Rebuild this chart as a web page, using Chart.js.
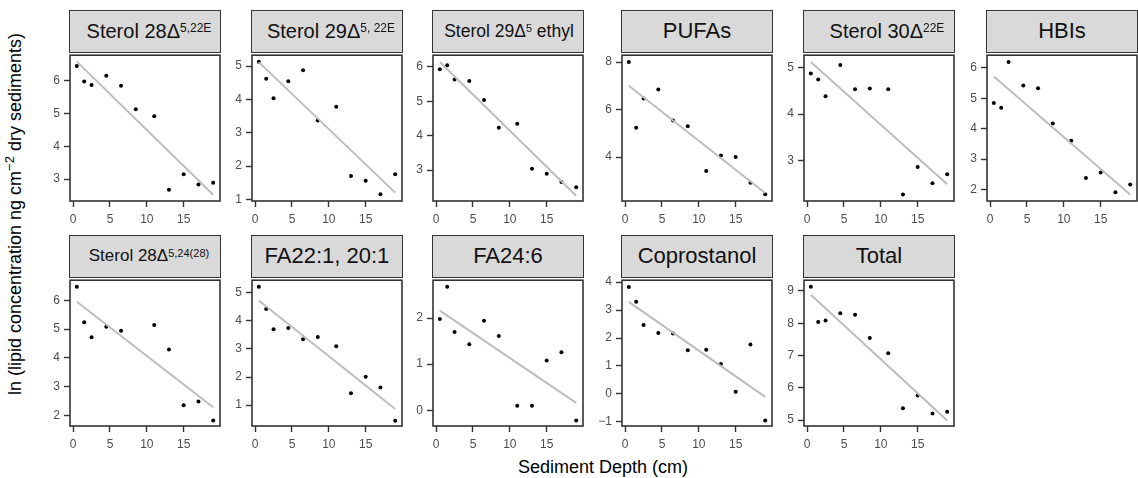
<!DOCTYPE html>
<html>
<head>
<meta charset="utf-8">
<script src="https://cdn.jsdelivr.net/npm/chart.js@4.4.1/dist/chart.umd.min.js"></script>
<style>
  body { margin: 0; background: #fff; width: 1138px; height: 478px; position: relative; overflow: hidden;
         font-family: "Liberation Sans", Arial, Helvetica, sans-serif; }
  .panel { position: absolute; }
  .strip { position: absolute; box-sizing: border-box; background: #d9d9d9; border: 1.6px solid #333;
           display: flex; align-items: center; justify-content: center; color: #111; white-space: pre; }
  .strip sup { position: relative; top: -0.3em; vertical-align: super; line-height: 0; }
  .ytitle { position: absolute; left: 14.8px; top: 214px; font-size: 18px; line-height: 18px; white-space: nowrap;
            transform: translate(-50%, -50%) rotate(-90deg); color: #000; }
  .ytitle sup { font-size: 13px; vertical-align: 7px; line-height: 0; }
  .xtitle { position: absolute; left: 603px; top: 458px; font-size: 18px; line-height: 18px; white-space: nowrap;
            transform: translateX(-50%); color: #000; }
</style>
</head>
<body>
<div class="ytitle">ln (lipid concentration ng cm<sup>&minus;2</sup> dry sediments)</div>
<div class="xtitle">Sediment Depth (cm)</div>
<script>
// sediment depth of each core slice (cm)
const depths = [0.5, 1.5, 2.5, 4.5, 6.5, 8.5, 11, 13, 15, 17, 19];
const depthTicks = [0, 5, 10, 15];

// ln concentrations per compound class, one value per depth
const sterol28_522 = [6.45, 5.98, 5.87, 6.15, 5.85, 5.13, 4.92, 2.67, 3.15, 2.83, 2.89];
const sterol29_522 = [5.13, 4.62, 4.04, 4.55, 4.88, 3.37, 3.78, 1.70, 1.56, 1.15, 1.75];
const sterol29_ethyl = [5.93, 6.05, 5.63, 5.59, 5.04, 4.23, 4.35, 3.04, 2.89, 2.65, 2.50];
const pufas = [8.00, 5.23, 6.47, 6.85, 5.54, 5.30, 3.41, 4.07, 4.00, 2.92, 2.43];
const sterol30_22 = [4.87, 4.74, 4.38, 5.05, 4.53, 4.55, 4.53, 2.28, 2.87, 2.52, 2.71];
const hbis = [4.85, 4.69, 6.20, 5.42, 5.33, 4.17, 3.60, 2.38, 2.56, 1.91, 2.16];
const sterol28_524 = [6.47, 5.24, 4.72, 5.08, 4.94, null, 5.14, 4.29, 2.35, 2.48, 1.82];
const fa22_20 = [5.21, 4.42, 3.70, 3.74, 3.34, 3.42, 3.09, 1.42, 2.01, 1.63, 0.45];
const fa24_6 = [1.98, 2.68, 1.70, 1.43, 1.94, 1.61, 0.10, 0.10, 1.08, 1.26, -0.22];
const coprostanol = [3.83, 3.30, 2.47, 2.18, 2.16, 1.56, 1.58, 1.07, 0.08, 1.77, -0.95];
const total = [9.13, 8.04, 8.08, 8.31, 8.26, 7.54, 7.07, 5.37, 5.76, 5.21, 5.26];

// facet labels
const facetLabels = [
  'Sterol 28&Delta;<sup>5,22E</sup>', 'Sterol 29&Delta;<sup>5, 22E</sup>', 'Sterol 29&Delta;<sup>5</sup> ethyl',
  'PUFAs', 'Sterol 30&Delta;<sup>22E</sup>', 'HBIs',
  'Sterol 28&Delta;<sup>5,24(28)</sup>', 'FA22:1, 20:1', 'FA24:6', 'Coprostanol', 'Total'
];

// y tick labels for each facet
const yTicks = [
  [3, 4, 5, 6], [1, 2, 3, 4, 5], [3, 4, 5, 6], [4, 6, 8], [3, 4, 5], [2, 3, 4, 5, 6],
  [2, 3, 4, 5, 6], [1, 2, 3, 4, 5], [0, 1, 2], [-1, 0, 1, 2, 3, 4], [5, 6, 7, 8, 9]
];

// free y ranges of each facet
const yRanges = [
  [2.33, 6.78], [0.95, 5.33], [2.10, 6.34], [2.15, 8.29], [2.14, 5.26], [1.62, 6.42],
  [1.63, 6.70], [0.26, 5.44], [-0.34, 2.82], [-1.15, 4.07], [4.82, 9.33]
];

const series = [sterol28_522, sterol29_522, sterol29_ethyl, pufas, sterol30_22, hbis,
                sterol28_524, fa22_20, fa24_6, coprostanol, total];

// layout
const colLeft = [70, 252, 433, 622, 804, 987];
const rowTop = [52, 277];
const PANEL_W = 150, PANEL_H = 149, STRIP_H = 42;
const AXIS_W = 40, AXIS_H = 30, PAD_T = 8, PAD_R = 4;
const stripFont = [20, 20, 17.5, 22, 20, 22, 17, 22, 22, 22, 22];
const stripSup = [12, 12, 11, 12, 12, 12, 11, 12, 12, 12, 12];
const stripDx = [4, 4, 1, 0, 8, 0, 4, 0, 0, 0, 0];

const FONT = '"Liberation Sans", Arial, Helvetica, sans-serif';

const panelBorder = {
  id: 'panelBorder',
  afterDraw(chart) {
    const { ctx, chartArea: a } = chart;
    ctx.save();
    ctx.strokeStyle = '#333';
    ctx.lineWidth = 1.6;
    ctx.strokeRect(a.left, a.top, a.right - a.left, a.bottom - a.top);
    ctx.restore();
  }
};

// least squares line over the observed depth span
function fitLine(xs, ys) {
  const pts = xs.map((x, i) => [x, ys[i]]).filter(p => p[1] !== null);
  const n = pts.length;
  const mx = pts.reduce((s, p) => s + p[0], 0) / n;
  const my = pts.reduce((s, p) => s + p[1], 0) / n;
  let sxy = 0, sxx = 0;
  pts.forEach(p => { sxy += (p[0] - mx) * (p[1] - my); sxx += (p[0] - mx) ** 2; });
  const b = sxy / sxx, a = my - b * mx;
  const x0 = Math.min(...pts.map(p => p[0])), x1 = Math.max(...pts.map(p => p[0]));
  return [{ x: x0, y: a + b * x0 }, { x: x1, y: a + b * x1 }];
}

const fmt = v => (v < 0 ? '\u2212' + Math.abs(v) : String(v));

series.forEach((vals, i) => {
  const col = i % 6, row = Math.floor(i / 6);
  const left = colLeft[col], top = rowTop[row];

  // strip
  const strip = document.createElement('div');
  strip.className = 'strip';
  strip.style.left = (left - 0.8) + 'px';
  strip.style.top = (top - STRIP_H) + 'px';
  strip.style.width = (PANEL_W + 1.6) + 'px';
  strip.style.height = (STRIP_H + 0.8) + 'px';
  strip.style.fontSize = stripFont[i] + 'px';
  strip.style.paddingLeft = (2 * stripDx[i]) + 'px';
  strip.innerHTML = facetLabels[i];
  strip.querySelectorAll('sup').forEach(s => { s.style.fontSize = stripSup[i] + 'px'; });
  document.body.appendChild(strip);

  // panel canvas, chart area lands on (left, top)
  const w = AXIS_W + PANEL_W + PAD_R, h = PAD_T + PANEL_H + AXIS_H;
  const box = document.createElement('div');
  box.className = 'panel';
  box.style.left = (left - AXIS_W) + 'px';
  box.style.top = (top - PAD_T) + 'px';
  box.style.width = w + 'px';
  box.style.height = h + 'px';
  const canvas = document.createElement('canvas');
  canvas.width = w; canvas.height = h;
  canvas.style.width = w + 'px'; canvas.style.height = h + 'px';
  box.appendChild(canvas);
  document.body.appendChild(box);

  const points = depths.map((d, k) => ({ x: d, y: vals[k] })).filter(p => p.y !== null);
  const ticks = yTicks[i];

  new Chart(canvas, {
    type: 'scatter',
    data: {
      datasets: [
        { data: fitLine(depths, vals), showLine: true, borderColor: '#bdbdbd', borderWidth: 2,
          pointRadius: 0, fill: false },
        { data: points, backgroundColor: '#000', borderWidth: 0, pointRadius: 2 }
      ]
    },
    options: {
      responsive: false,
      animation: false,
      devicePixelRatio: 1,
      events: [],
      layout: { padding: { top: PAD_T, right: PAD_R, left: 0, bottom: 0 } },
      plugins: { legend: { display: false }, tooltip: { enabled: false } },
      scales: {
        x: {
          type: 'linear',
          min: -0.425, max: 19.925,
          afterFit: s => { s.height = AXIS_H; },
          afterBuildTicks: s => { s.ticks = depthTicks.map(v => ({ value: v })); },
          border: { display: false },
          grid: { drawOnChartArea: false, drawTicks: true, tickLength: 6, tickColor: '#333', tickWidth: 1.4 },
          ticks: { color: '#4d4d4d', padding: 5, font: { family: FONT, size: 12 }, maxRotation: 0,
                   autoSkip: false, callback: v => fmt(v) }
        },
        y: {
          type: 'linear',
          min: yRanges[i][0], max: yRanges[i][1],
          afterFit: s => { s.width = AXIS_W; },
          afterBuildTicks: s => { s.ticks = ticks.map(v => ({ value: v })); },
          border: { display: false },
          grid: { drawOnChartArea: false, drawTicks: true, tickLength: 6, tickColor: '#333', tickWidth: 1.4 },
          ticks: { color: '#4d4d4d', padding: 4, font: { family: FONT, size: 12 }, autoSkip: false,
                   callback: v => fmt(v) }
        }
      }
    },
    plugins: [panelBorder]
  });
});
</script>
</body>
</html>
